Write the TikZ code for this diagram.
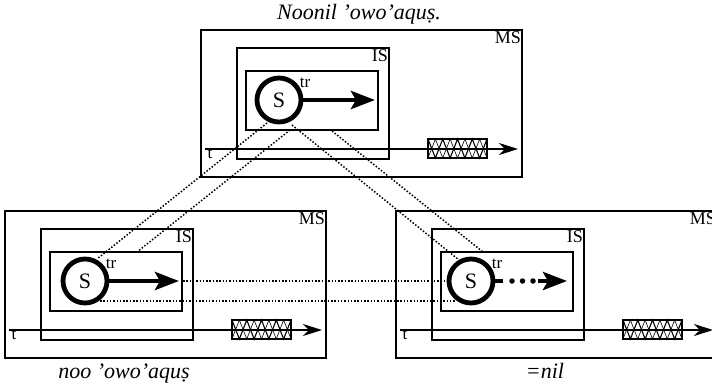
\documentclass[tikz,border=0pt]{standalone}
\usepackage{fontspec}
\setmainfont{Liberation Serif}
\usetikzlibrary{arrows.meta}
\newcommand\panel[4]{%
\begin{scope}[shift={(#2,#3)}]
\node[frame, minimum width=321pt, minimum height=147pt] (#1ms) at (361.5,103.5) {};
\node[frame, minimum width=152pt, minimum height=111pt] (#1is) at (313,103.5) {};
\node[frame, minimum width=132pt, minimum height=59pt] (#1in) at (312,100.5) {};
\node[lab] (#1mslab) at ([shift={(-1.2,1.6)}]#1ms.north east) {MS};
\node[lab] (#1islab) at ([shift={(-1.2,1.6)}]#1is.north east) {IS};
\node[scirc] (#1c) at (279+#4,100) {S};
\node[trlab] (#1tr) at (305+#4,83) {tr};
\coordinate (#1t0) at (205,149);
\coordinate (#1t1) at (518,149);
\draw[timeline] (#1t0) -- (#1t1);
\node[tlab] (#1tlab) at (210,154) {t};
\node[frame, line width=1.3pt, minimum width=59pt, minimum height=19pt] (#1z) at (457.5,148.5) {};
\draw[zig] (428,139) \foreach \i in {0,...,3}{ -- ({435.375+14.75*\i},158) -- ({442.75+14.75*\i},139)};
\draw[zig, line width=0.6pt] (428,158) \foreach \i in {0,...,3}{ -- ({435.375+14.75*\i},139) -- ({442.75+14.75*\i},158)};
\end{scope}}
\begin{document}
\begin{tikzpicture}[x=1pt,y=-1pt,
  frame/.style={draw, line width=1.5pt, inner sep=0pt},
  lab/.style={anchor=north east, inner sep=0.5pt, font=\fontsize{18}{18}\selectfont},
  scirc/.style={circle, draw, line width=4.8pt, minimum size=44pt, inner sep=0pt, font=\fontsize{22}{22}\selectfont},
  trlab/.style={inner sep=0pt, font=\fontsize{17}{17}\selectfont},
  tlab/.style={inner sep=0pt, font=\fontsize{17}{17}\selectfont},
  timeline/.style={line width=1.4pt, -{Stealth[length=19pt,width=12pt,inset=6pt]}},
  zig/.style={line width=1.1pt},
  fat/.style={line width=4.5pt, -{Stealth[length=24pt,width=18pt,inset=5pt]}},
  dotsline/.style={line width=5.5pt, line cap=round, dash pattern=on 0pt off 10.5pt},
  conn/.style={line width=1.5pt, dash pattern=on 1.5pt off 1.8pt},
  captext/.style={inner sep=0pt, anchor=base, font=\itshape\fontsize{22}{22}\selectfont}]
\useasboundingbox (0,0) rectangle (712,386);
\clip (0,0) rectangle (712,386);
\fill[white] (0,0) rectangle (712,386);
% captions
\node[captext] (capT) at (359,19) {Noonil ’owo’aquṣ.};
\node[captext] (capL) at (124,378) {noo ’owo’aquṣ};
\node[captext] (capR) at (545,378) {=nil};
% panels
\panel{T}{0}{0}{0}
\panel{L}{-196}{181}{2}
\panel{R}{195}{181}{-3}
% thick arrows
\coordinate (Ttip) at (375,100);
\draw[fat] (Tc) -- (Ttip);
\coordinate (Ltip) at (179,281);
\draw[fat] (Lc) -- (Ltip);
\coordinate (Rstub) at (503,281);
\draw[line width=4.5pt] (Rc) -- (Rstub);
\coordinate (Rd0) at (512,281);
\coordinate (Rd1) at (533,281);
\draw[dotsline] (Rd0) -- (Rd1);
\coordinate (Rh0) at (538,281);
\coordinate (Rtip) at (567,281);
\draw[fat] (Rh0) -- (Rtip);
% dotted correspondence lines
\coordinate (a1) at (267,123); \coordinate (b1) at (97,259);
\coordinate (a2) at (290,130); \coordinate (b2) at (137,252);
\coordinate (a3) at (292,125); \coordinate (b3) at (459,260);
\coordinate (a4) at (332,131); \coordinate (b4) at (483,252);
\coordinate (a5) at (183,281); \coordinate (b5) at (447,281);
\coordinate (a6) at (100,301); \coordinate (b6) at (456,301);
\draw[conn] (a1) -- (b1);
\draw[conn] (a2) -- (b2);
\draw[conn] (a3) -- (b3);
\draw[conn] (a4) -- (b4);
\draw[conn] (a5) -- (b5);
\draw[conn] (a6) -- (b6);
\end{tikzpicture}
\end{document}
